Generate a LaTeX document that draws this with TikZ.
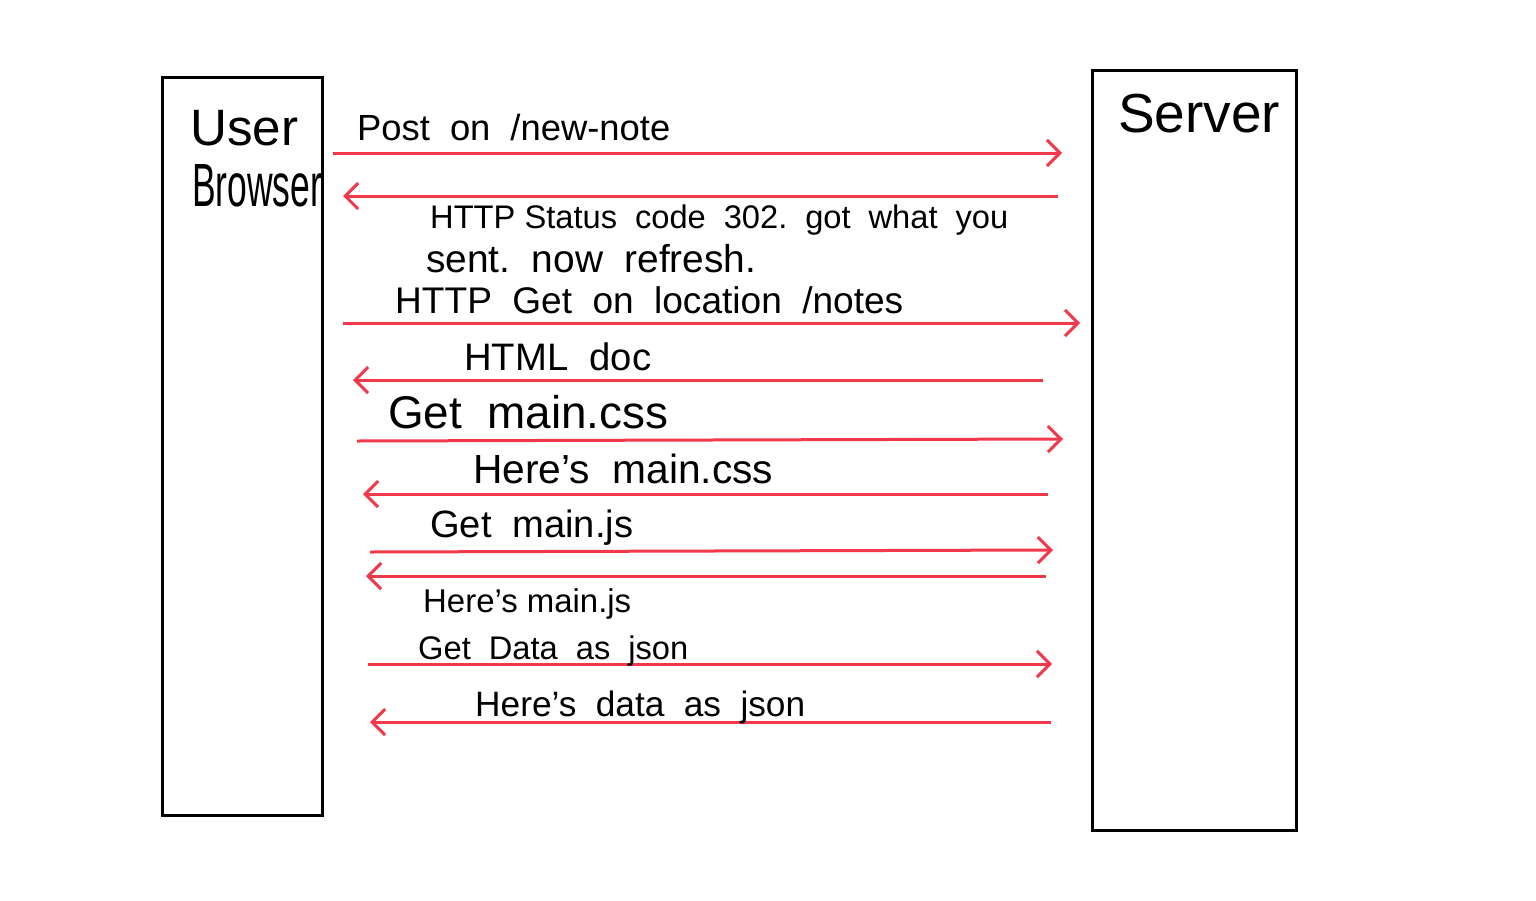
\documentclass[tikz,border=0pt]{standalone}
\usepackage{fontspec}
\setmainfont{Liberation Sans}
\usepackage{graphicx}
\usetikzlibrary{arrows.meta}
\definecolor{arrowred}{HTML}{F2384B}
\newcommand{\lab}[2]{\resizebox{#1pt}{!}{#2}}
\newcommand{\ws}{\hspace{0.55em}}
\tikzset{
  lane/.style={draw=black, line width=3pt, outer sep=0pt, inner sep=0pt, anchor=north west},
  msg/.style={draw=arrowred, line width=3pt, -{Straight Barb[length=13pt,width=26pt,line width=3pt]}},
  txt/.style={anchor=base west, inner sep=0pt, text=black}
}
\begin{document}
\begin{tikzpicture}[x=1pt,y=-1pt]
\useasboundingbox (0,0) rectangle (1536,900);
\fill[white] (0,0) rectangle (1536,900);
% lifelines
\node[lane, minimum width=160pt, minimum height=738pt] (browser) at (162,77) {};
\node[lane, minimum width=204pt, minimum height=760pt] (server) at (1092,70) {};
\node[txt] (tuser) at (190,145) {\lab{108}{User}};
\node[txt] (tbrowser) at (192,206) {\resizebox{130pt}{42pt}{Browser}};
\node[txt] (tserver) at (1118,132) {\lab{162}{Server}};
% endpoints
\coordinate (a1s) at (333,153); \coordinate (a1e) at (1062,153);
\coordinate (a2s) at (1058,196); \coordinate (a2e) at (343,196);
\coordinate (a3s) at (343,323); \coordinate (a3e) at (1080,323);
\coordinate (a4s) at (1043,380); \coordinate (a4e) at (353,380);
\coordinate (a5s) at (357,441); \coordinate (a5e) at (1063,439);
\coordinate (a6s) at (1048,494); \coordinate (a6e) at (363,494);
\coordinate (a7s) at (370,552); \coordinate (a7e) at (1053,550);
\coordinate (a8s) at (1046,576); \coordinate (a8e) at (366,576);
\coordinate (a9s) at (368,664); \coordinate (a9e) at (1052,664);
\coordinate (a10s) at (1051,722); \coordinate (a10e) at (370,722);
\foreach \i in {1,...,10} {\draw[msg] (a\i s) -- (a\i e);}
% labels
\node[txt] (l1) at (357,140) {\lab{313}{Post\ws on\ws /new-note}};
\node[txt] (l2a) at (430,228) {\lab{578}{HTTP Status\ws code\ws 302.\ws got\ws what\ws you}};
\node[txt] (l2b) at (426,272) {\lab{330}{sent.\ws now\ws refresh.}};
\node[txt] (l3) at (395,313) {\lab{508}{HTTP\ws Get\ws on\ws location\ws /notes}};
\node[txt] (l4) at (464,370) {\lab{187}{HTML\ws doc}};
\node[txt] (l5) at (388,428) {\lab{280}{Get\ws main.css}};
\node[txt] (l6) at (473,483) {\lab{300}{Here’s\ws main.css}};
\node[txt] (l7) at (430,537) {\lab{203}{Get\ws main.js}};
\node[txt] (l8) at (423,612) {\lab{208}{Here’s main.js}};
\node[txt] (l9) at (418,659) {\lab{270}{Get\ws Data\ws as\ws json}};
\node[txt] (l10) at (475,716) {\lab{330}{Here’s\ws data\ws as\ws json}};
\end{tikzpicture}
\end{document}
